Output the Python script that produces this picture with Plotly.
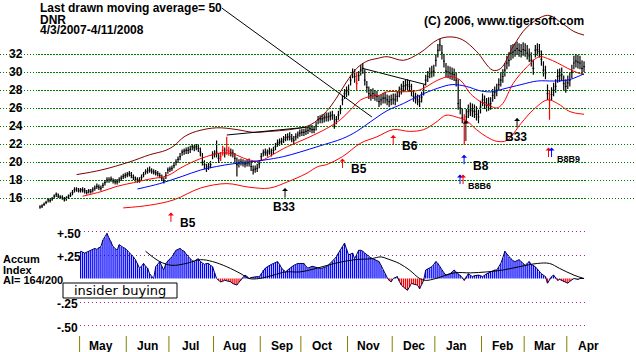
import pandas as pd
import plotly.graph_objects as go

# ---------------- data ----------------
dates = pd.bdate_range("2007-04-03", "2008-04-11")   # trading-day axis (index 0..268)

close = [
15.0, 15.1, 15.3, 15.5, 15.8, 15.7, 15.9, 16.2, 16.4, 16.2,
16.1, 16.0, 15.8, 16.0, 16.1, 16.3, 16.6, 16.9, 17.0, 16.8,
16.9, 16.9, 16.8, 16.6, 16.8, 16.7, 16.9, 17.1, 17.3, 17.2,
17.1, 17.4, 17.7, 18.0, 18.0, 18.1, 17.9, 17.8, 17.8, 18.0,
18.2, 18.4, 18.5, 18.6, 18.7, 18.5, 18.3, 18.1, 18.0, 18.0,
18.3, 18.6, 18.9, 19.0, 19.1, 19.0, 18.9, 18.8, 18.7, 18.5,
18.2, 17.9, 18.5, 19.1, 19.2, 19.3, 19.6, 20.0, 20.3, 20.6,
21.1, 21.2, 21.3, 21.3, 21.4, 21.7, 21.6, 21.7, 21.5, 21.1,
20.0, 19.7, 19.3, 19.5, 19.7, 20.8, 20.9, 21.1, 20.4, 20.6,
21.3, 21.0, 21.3, 21.2, 21.0, 21.0, 20.4, 19.7, 19.9, 20.0,
19.9, 19.8, 19.9, 19.9, 19.5, 19.1, 19.2, 19.3, 19.8, 20.6,
21.0, 21.1, 21.0, 21.2, 21.0, 21.3, 21.7, 22.1, 22.2, 22.3,
22.5, 22.7, 22.8, 22.8, 22.6, 22.4, 22.8, 23.0, 23.2, 23.3,
23.3, 23.4, 23.5, 23.7, 23.6, 23.6, 24.0, 24.7, 24.8, 24.8,
24.9, 25.0, 25.0, 25.1, 25.2, 24.1, 24.7, 25.2, 25.8, 26.9,
27.6, 27.8, 28.0, 29.1, 29.9, 29.5, 28.7, 29.6, 30.2, 30.4,
29.1, 28.3, 27.6, 27.4, 27.6, 27.4, 27.3, 26.7, 26.9, 27.1,
27.1, 26.9, 26.7, 26.9, 27.0, 26.9, 27.3, 27.8, 28.1, 28.4,
28.5, 28.6, 28.4, 27.9, 27.3, 27.1, 26.9, 26.7, 27.2, 28.0,
29.1, 29.5, 29.9, 30.0, 30.1, 31.3, 32.4, 33.0, 32.1, 31.2,
30.1, 30.0, 29.9, 29.8, 29.7, 29.1, 26.5, 26.0, 24.9, 24.3,
25.0, 25.6, 25.8, 25.7, 25.6, 25.3, 25.0, 26.1, 26.9, 26.6,
26.3, 26.4, 26.5, 27.4, 27.7, 28.0, 28.6, 29.1, 29.5, 30.2,
31.0, 31.3, 32.1, 32.2, 32.4, 32.6, 32.4, 32.3, 32.5, 32.4,
32.1, 31.8, 31.3, 30.4, 32.4, 32.5, 32.3, 31.4, 30.2, 29.9,
27.6, 26.9, 27.5, 28.0, 28.4, 29.5, 29.6, 29.7, 28.7, 28.4,
28.8, 29.1, 30.0, 31.0, 31.2, 31.1, 31.0, 30.4, 30.6]

high = [
15.2, 15.3, 15.5, 15.7, 16.0, 16.0, 16.1, 16.4, 16.6, 16.5,
16.3, 16.3, 16.1, 16.2, 16.4, 16.6, 16.9, 17.2, 17.2, 17.1,
17.1, 17.2, 17.1, 16.9, 17.0, 17.0, 17.2, 17.4, 17.6, 17.5,
17.4, 17.7, 18.0, 18.3, 18.3, 18.4, 18.2, 18.1, 18.1, 18.3,
18.5, 18.7, 18.8, 18.9, 19.0, 18.9, 18.6, 18.4, 18.3, 18.3,
18.6, 18.9, 19.2, 19.4, 19.5, 19.3, 19.2, 19.1, 19.0, 18.8,
18.6, 18.3, 18.9, 19.4, 19.5, 19.6, 19.9, 20.3, 20.6, 21.0,
21.4, 21.5, 21.6, 21.7, 21.8, 22.0, 21.9, 22.0, 21.9, 21.6,
21.0, 20.2, 19.8, 19.9, 20.1, 21.2, 21.3, 22.4, 21.0, 21.1,
21.8, 21.6, 22.8, 21.7, 21.5, 21.4, 21.0, 20.5, 20.3, 20.4,
20.3, 20.2, 20.3, 20.4, 20.1, 19.6, 19.6, 19.8, 20.2, 21.0,
21.4, 21.5, 21.4, 21.6, 21.5, 21.7, 22.1, 22.5, 22.6, 22.7,
22.9, 23.1, 23.2, 23.3, 23.1, 22.9, 23.2, 23.4, 23.6, 23.7,
23.7, 23.8, 23.9, 24.1, 24.1, 24.0, 24.5, 25.1, 25.2, 25.3,
25.3, 25.5, 25.5, 25.6, 25.7, 25.3, 25.1, 25.7, 26.3, 27.4,
28.1, 28.4, 28.6, 29.6, 30.4, 30.3, 30.0, 30.1, 30.8, 31.0,
30.3, 29.0, 28.4, 28.1, 28.2, 28.0, 27.9, 27.4, 27.5, 27.7,
27.8, 27.5, 27.4, 27.5, 27.6, 27.6, 27.9, 28.4, 28.7, 29.0,
29.1, 29.2, 29.1, 28.7, 28.0, 27.7, 27.5, 27.4, 27.8, 28.6,
29.7, 30.1, 30.5, 30.7, 30.8, 32.0, 33.1, 33.7, 33.0, 32.0,
31.0, 30.7, 30.6, 30.5, 30.4, 29.9, 29.2, 27.0, 26.0, 25.3,
25.9, 26.4, 26.6, 26.5, 26.4, 26.2, 25.8, 26.8, 27.6, 27.4,
27.1, 27.2, 27.2, 28.1, 28.4, 28.7, 29.3, 29.9, 30.3, 31.0,
31.8, 32.2, 33.0, 33.1, 33.2, 33.4, 33.2, 33.1, 33.3, 33.2,
33.0, 32.6, 32.2, 31.4, 33.0, 33.2, 33.1, 32.4, 31.2, 30.7,
28.6, 28.0, 28.3, 28.8, 29.2, 30.3, 30.4, 30.5, 29.6, 29.2,
29.6, 29.9, 30.8, 31.8, 32.0, 31.9, 31.8, 31.3, 31.2]

low = [
14.8, 14.9, 15.1, 15.3, 15.5, 15.5, 15.7, 15.9, 16.1, 16.0,
15.9, 15.8, 15.6, 15.7, 15.9, 16.1, 16.3, 16.6, 16.7, 16.6,
16.6, 16.6, 16.5, 16.4, 16.5, 16.5, 16.6, 16.8, 17.0, 16.9,
16.8, 17.1, 17.4, 17.7, 17.7, 17.8, 17.6, 17.5, 17.5, 17.7,
17.9, 18.1, 18.2, 18.3, 18.4, 18.2, 18.0, 17.8, 17.7, 17.7,
18.0, 18.3, 18.6, 18.7, 18.8, 18.7, 18.6, 18.5, 18.4, 18.2,
17.9, 17.6, 18.1, 18.7, 18.9, 19.0, 19.3, 19.6, 19.9, 20.2,
20.7, 20.8, 20.9, 20.9, 21.0, 21.3, 21.2, 21.3, 21.1, 20.6,
19.6, 19.2, 18.9, 19.1, 19.3, 20.3, 20.5, 20.5, 19.9, 20.1,
20.7, 20.5, 20.8, 20.7, 20.6, 20.5, 19.9, 18.4, 19.4, 19.6,
19.5, 19.4, 19.5, 19.5, 19.0, 18.6, 18.8, 18.9, 19.3, 20.1,
20.6, 20.7, 20.6, 20.8, 20.6, 20.9, 21.3, 21.7, 21.8, 21.9,
22.1, 22.3, 22.4, 22.4, 22.2, 22.0, 22.4, 22.6, 22.8, 22.9,
22.9, 23.0, 23.1, 23.3, 23.2, 23.2, 23.5, 24.2, 24.3, 24.3,
24.4, 24.5, 24.5, 24.6, 24.7, 23.7, 24.2, 24.7, 25.3, 26.3,
27.0, 27.2, 27.4, 28.5, 29.3, 28.8, 28.0, 29.0, 29.6, 29.8,
28.5, 27.7, 27.0, 26.8, 27.0, 26.8, 26.7, 26.1, 26.3, 26.5,
26.5, 26.3, 26.1, 26.3, 26.4, 26.3, 26.7, 27.2, 27.5, 27.8,
27.9, 28.0, 27.8, 27.3, 26.7, 26.5, 26.3, 26.1, 26.6, 27.4,
28.5, 28.9, 29.3, 29.4, 29.5, 30.6, 31.6, 32.3, 31.4, 30.5,
29.4, 29.3, 29.2, 29.1, 29.0, 28.4, 25.8, 25.3, 24.3, 21.9,
24.3, 24.9, 25.1, 25.0, 24.9, 24.6, 24.3, 25.4, 26.2, 25.9,
25.6, 25.7, 25.8, 26.7, 27.0, 27.3, 27.9, 28.4, 28.8, 29.5,
30.3, 30.6, 31.3, 31.5, 31.7, 31.9, 31.7, 31.6, 31.8, 31.7,
31.4, 31.1, 30.6, 29.7, 31.6, 31.8, 31.6, 30.7, 29.5, 29.2,
26.9, 24.7, 26.8, 27.3, 27.7, 28.8, 28.9, 29.0, 28.0, 27.7,
28.1, 28.4, 29.3, 30.3, 30.5, 30.4, 30.3, 29.7, 30.0]

red_bar_days = [89, 90, 92, 93, 156, 209, 251]

# 21-day band lines and 50-day average (trading-day index, price)
upper_x = [18, 30, 44, 54, 62, 66, 71, 77, 87, 97, 105, 113, 123, 133, 141, 146, 151, 156,
           161, 166, 171, 179, 187, 196, 202, 208, 215, 223, 227, 233, 240, 250, 256, 263, 268]
upper = [18.6, 19.1, 20.0, 20.8, 21.3, 21.8, 22.8, 23.4, 23.8, 23.6, 23.3, 23.4, 23.6, 24.1,
         25.6, 27.1, 28.9, 30.4, 31.2, 31.5, 31.7, 31.3, 32.1, 33.6, 33.9, 33.6, 32.3, 30.2,
         30.4, 32.8, 35.0, 36.3, 35.6, 34.5, 34.1]
mid_x = [21, 30, 38, 46, 54, 63, 69, 75, 82, 89, 95, 102, 108, 113, 120, 128, 133, 141, 148,
         153, 158, 163, 167, 171, 179, 187, 196, 202, 207, 212, 217, 222, 225, 228, 233, 240,
         246, 250, 255, 260, 265, 268]
mid = [16.2, 16.7, 17.3, 17.7, 18.1, 18.5, 19.3, 20.0, 20.6, 21.0, 20.9, 20.3, 20.1, 20.6,
       21.5, 22.3, 22.8, 23.7, 24.7, 25.8, 26.9, 27.3, 27.4, 27.8, 27.8, 28.0, 29.1, 29.5,
       29.1, 27.6, 26.7, 26.2, 26.0, 26.5, 28.7, 30.6, 31.7, 31.5, 31.0, 30.4, 29.9, 29.7]
lower_x = [41, 54, 66, 79, 92, 103, 113, 122, 131, 137, 141, 149, 158, 166, 174, 182, 189,
           195, 200, 205, 210, 215, 220, 225, 230, 237, 243, 250, 255, 261, 268]
lower = [14.9, 15.2, 15.8, 17.1, 17.6, 17.2, 17.1, 17.8, 18.7, 19.5, 19.7, 20.6, 22.1, 22.8,
         23.6, 23.4, 23.6, 24.4, 25.2, 25.0, 24.6, 23.6, 22.8, 22.3, 22.4, 24.3, 25.8, 26.9,
         26.5, 25.6, 25.3]
ma50_x = [48, 59, 70, 79, 87, 95, 103, 110, 120, 128, 138, 149, 156, 163, 171, 179, 187,
          196, 203, 210, 217, 223, 228, 237, 245, 253, 260, 265, 268]
ma50 = [17.0, 17.6, 18.4, 19.1, 19.5, 19.8, 20.0, 20.2, 20.6, 21.1, 21.8, 22.6, 23.4, 24.5,
        25.7, 26.5, 27.4, 28.2, 28.6, 28.4, 27.9, 27.8, 28.1, 28.6, 29.0, 29.0, 29.1, 29.5, 29.8]

trend1_x = [159, 190]
trend1_y = [30.4, 28.6]
trend2_x = [92, 133]
trend2_y = [23.0, 23.9]
pointer_x = [89.6, 163.5]
pointer_y = [37.1, 25.0]

# Accumulation index (from trading day 20) and its moving average
ai_start = 20
ai = [
.29, .28, .27, .28, .29, .30, .31, .32, .31, .33,
.34, .41, .44, .48, .43, .39, .34, .32, .30, .36,
.34, .33, .32, .30, .27, .25, .23, .20, .16, .11,
.13, .16, .13, .11, .05, .02, .00, .125, .15, .18,
.13, .09, .16, .19, .21, .23, .27, .30, .31, .32,
.30, .29, .26, .23, .21, .19, .18, .20, .21, .18,
.16, .15, .16, .16, .14, .125, .06, .00, -.02, -.036,
-.03, -.018, -.025, -.03, -.036, -.054, -.06, -.07, -.04, -.018,
.01, .036, .02, .00, .01, .015, .018, .02, .018, .05,
.09, .11, .125, .14, .15, .16, .17, .18, .15, .11,
.09, .07, .09, .11, .125, .14, .15, .16, .16, .16,
.16, .13, .11, .12, .13, .125, .12, .11, .107, .11,
.115, .125, .14, .16, .18, .20, .23, .27, .30, .34,
.375, .31, .25, .26, .27, .21, .25, .30, .30, .29,
.27, .25, .23, .22, .21, .20, .19, .18, .14, .09,
.05, .01, -.02, -.035, .00, .01, .02, -.03, -.07, -.09,
-.11, -.125, -.09, -.05, -.06, -.065, -.07, -.11, -.06, -.02,
.09, .10, .11, .125, .15, .18, .16, .125, .09, .06,
.036, .04, .05, .07, .09, .07, .05, .036, .01, -.02,
.02, .05, .035, .02, .03, .035, .036, .03, .02, .035,
.05, .06, .07, .08, .09, .09, .12, .16, .22, .29,
.26, .23, .21, .19, .18, .19, .20, .18, .16, .14,
.16, .18, .15, .14, .125, .10, .07, .05, .035, .02,
-.05, -.01, .02, .036, .01, -.02, -.01, -.02, -.036, -.04,
-.05, -.03, -.01, .00, -.005, -.01, .00, .00, .00]
ai_ma_x = [52, 59, 65, 72, 79, 85, 92, 99, 103, 108, 115, 121, 128, 136, 145, 155, 163, 168,
           171, 177, 182, 187, 190, 195, 204, 212, 220, 228, 236, 245, 251, 256, 263, 268]
ai_ma = [.29, .18, .14, .16, .20, .18, .125, .05, .0, .0, .036, .07, .07, .107, .16, .20, .21,
         .23, .21, .16, .09, .0, -.02, .0, .06, .06, .07, .09, .125, .16, .16, .107, .036, .0]

# signals: trading-day index, price at arrow tip, colour, label
sig_x = [64.5, 120.7, 149.0, 174.0, 208.9, 206.9, 208.4, 209.8, 235.0, 250.5, 252.0]
sig_y = [14.4, 17.1, 20.4, 23.0, 20.8, 18.6, 18.6, 24.6, 24.9, 21.6, 21.6]
sig_color = ["red", "black", "red", "red", "blue", "blue", "red", "black", "black", "red", "blue"]
sig_label = ["B5", "B33", "B5", "B6", "B8", "", "B8B6", "", "B33", "", "B8B9"]

price_ticks = [32, 30, 28, 26, 24, 22, 20, 18, 16]
ai_ticks = [0.5, 0.25, -0.25, -0.5]
ai_tick_text = ["+.50", "+.25", "-.25", "-.50"]
month_names = ["May", "Jun", "Jul", "Aug", "Sep", "Oct", "Nov", "Dec", "Jan", "Feb", "Mar", "Apr"]

title_lines = ["Last drawn moving average= 50", "DNR", "4/3/2007-4/11/2008"]
copyright_text = "(C) 2006, www.tigersoft.com"
ai_caption = ["Accum", "Index", "AI= 164/200"]
box_text = "insider buying"

# ---------------- geometry (pixels) ----------------
W, H = 636, 352
PX0, PXD = 40.0, 2.03          # pixel of day 0, pixels per trading day
Y16, PPU = 198.0, 9.0          # pixel of price 16, pixels per dollar
AI0, APU = 278.5, 94.0         # pixel of AI zero, pixels per unit
X_L, X_AI, X_R = 38.0, 80.0, 585.0

FONT = "Liberation Sans, Arial, sans-serif"

def day(px):
    return (px - PX0) / PXD

n = len(close)
idx = list(range(n))

fig = go.Figure()

# bands and averages
fig.add_trace(go.Scatter(x=upper_x, y=upper, mode="lines", line=dict(color="#800000", width=1),
                         line_shape="spline", hoverinfo="skip"))
fig.add_trace(go.Scatter(x=mid_x, y=mid, mode="lines", line=dict(color="#ff0000", width=1),
                         line_shape="spline", hoverinfo="skip"))
fig.add_trace(go.Scatter(x=lower_x, y=lower, mode="lines", line=dict(color="#ff0000", width=1),
                         line_shape="spline", hoverinfo="skip"))
fig.add_trace(go.Scatter(x=ma50_x, y=ma50, mode="lines", line=dict(color="#0000ff", width=1),
                         line_shape="spline", hoverinfo="skip"))
for tx, ty in [(trend1_x, trend1_y), (trend2_x, trend2_y), (pointer_x, pointer_y)]:
    fig.add_trace(go.Scatter(x=tx, y=ty, mode="lines", line=dict(color="black", width=1),
                             hoverinfo="skip"))

# price bars
black_i = [i for i in idx if i not in red_bar_days]
fig.add_trace(go.Ohlc(
    x=black_i, open=[close[i] for i in black_i], high=[high[i] for i in black_i],
    low=[low[i] for i in black_i], close=[close[i] for i in black_i],
    increasing=dict(line=dict(color="black", width=1.2)),
    decreasing=dict(line=dict(color="black", width=1.2)),
    tickwidth=0.45, hoverinfo="skip"))
fig.add_trace(go.Ohlc(
    x=red_bar_days, open=[close[i] for i in red_bar_days], high=[high[i] for i in red_bar_days],
    low=[low[i] for i in red_bar_days], close=[close[i] for i in red_bar_days],
    increasing=dict(line=dict(color="red", width=1.2)),
    decreasing=dict(line=dict(color="red", width=1.2)),
    tickwidth=0.45, hoverinfo="skip"))

# accumulation index: one thin vertical stroke per day
ai_x = list(range(ai_start, ai_start + len(ai)))
for positive, col in [(True, "#0000ff"), (False, "#ff0000")]:
    sx, sy = [], []
    for x, v in zip(ai_x, ai):
        if (v >= 0) == positive:
            sx += [x, x, None]
            sy += [0, v, None]
    fig.add_trace(go.Scatter(x=sx, y=sy, mode="lines", xaxis="x2", yaxis="y2",
                             line=dict(color=col, width=1.3), hoverinfo="skip"))
fig.add_trace(go.Scatter(x=ai_x, y=ai, mode="lines", xaxis="x2", yaxis="y2",
                         line=dict(color="#000050", width=1), hoverinfo="skip"))
fig.add_trace(go.Scatter(x=ai_ma_x, y=ai_ma, mode="lines", xaxis="x2", yaxis="y2",
                         line=dict(color="black", width=1), line_shape="spline", hoverinfo="skip"))

ann = []
shapes = []

def txt(x, y, s, size=12, bold=True, xanchor="left", xref="paper", yref="paper", **kw):
    d = dict(x=x, y=y, xref=xref, yref=yref, text=("<b>%s</b>" % s) if bold else s,
             showarrow=False, xanchor=xanchor, yanchor="middle",
             font=dict(family=kw.pop("family", FONT), size=size, color=kw.pop("color", "black")))
    d.update(kw)
    ann.append(d)

# titles
for s, ypx in zip(title_lines, [7.5, 19.5, 30]):
    txt(X_L / W, 1 - ypx / H, s)
txt(422 / W, 1 - 21.5 / H, copyright_text)

# price labels
for v in price_ticks:
    txt(7 / W, v, str(v), yref="y")
# AI labels
for v, s in zip(ai_ticks, ai_tick_text):
    txt(55 / W, v, s, yref="y2", yshift=-2)
for s, ypx in zip(ai_caption, [259, 269.5, 280]):
    txt(1 / W, 1 - ypx / H, s, size=11)

# insider buying box
shapes.append(dict(type="rect", xref="paper", yref="paper", x0=63 / W, x1=177 / W,
                   y0=1 - 298 / H, y1=1 - 283 / H, line=dict(color="black", width=1),
                   fillcolor="white", layer="above"))
txt(120 / W, 1 - 290.5 / H, box_text, size=13, bold=False, xanchor="center",
    family="DejaVu Sans, sans-serif")

# month separators and labels (on a full-width copy of the day axis)
month_starts = [i for i in range(1, n) if dates[i].month != dates[i - 1].month]
for k, ms in enumerate(month_starts):
    shapes.append(dict(type="line", xref="x3", yref="paper", x0=ms - 0.5, x1=ms - 0.5,
                       y0=0, y1=16 / H, line=dict(color="#808000", width=1)))
    txt(ms + 10, 1 - 346 / H, month_names[k], xref="x3", xanchor="center")

# signals
for sx, sy, c, lab in zip(sig_x, sig_y, sig_color, sig_label):
    tail = 22 if (lab == "" and c == "black") else 11
    ann.append(dict(x=sx, y=sy, xref="x", yref="y", ax=0, ay=tail, text="",
                    showarrow=True, arrowhead=1, arrowsize=1, arrowwidth=1, arrowcolor=c))
    if lab:
        if lab == "B33":
            txt(sx, sy, lab, xref="x", yref="y", xanchor="center", xshift=-1, yshift=-19)
        elif len(lab) > 3:
            txt(sx, sy, lab, xref="x", yref="y", xanchor="left", xshift=3, yshift=-11, size=9)
        else:
            txt(sx, sy, lab, xref="x", yref="y", xanchor="left", xshift=7, yshift=-11)

fig.update_layout(
    width=W, height=H, margin=dict(l=0, r=0, t=0, b=0), autosize=False,
    paper_bgcolor="white", plot_bgcolor="rgba(0,0,0,0)", showlegend=False,
    annotations=ann, shapes=shapes,
    xaxis=dict(domain=[X_L / W, X_R / W], range=[day(X_L), day(X_R)], visible=False,
               rangeslider=dict(visible=False), fixedrange=True),
    yaxis=dict(domain=[0, 1], range=[16 - (H - Y16) / PPU, 16 + Y16 / PPU], anchor="x",
               tickvals=price_ticks, showticklabels=False, ticks="", showgrid=True,
               gridcolor="#008000", griddash="1px,2px", gridwidth=1, zeroline=False,
               showline=False, fixedrange=True),
    xaxis2=dict(domain=[X_AI / W, X_R / W], range=[day(X_AI), day(X_R)], visible=False,
                anchor="y2", fixedrange=True),
    yaxis2=dict(domain=[0, 1], range=[-(H - AI0) / APU, AI0 / APU], anchor="x2",
                overlaying="y", tickvals=ai_ticks, showticklabels=False, ticks="",
                showgrid=True, gridcolor="#b020a0", griddash="1px,3px", gridwidth=1,
                zeroline=False, showline=False, fixedrange=True),
    xaxis3=dict(domain=[0, 1], range=[day(0), day(W)], visible=False, anchor="free",
                position=0, fixedrange=True),
)

fig.write_html("out.html")
